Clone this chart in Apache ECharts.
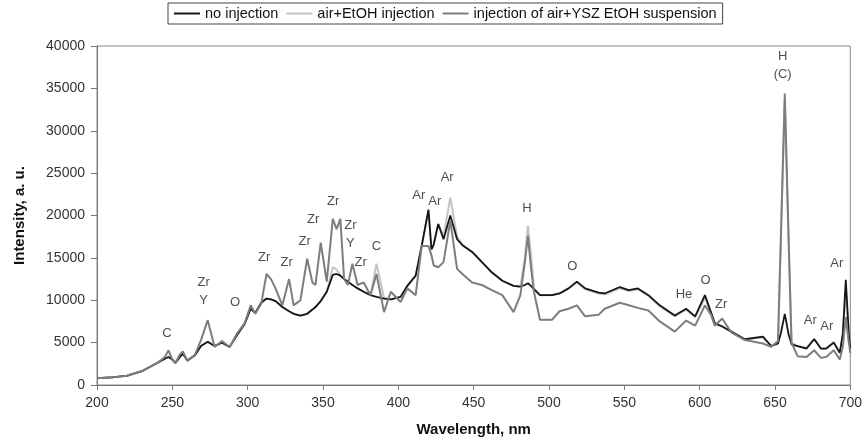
<!DOCTYPE html>
<html>
<head>
<meta charset="utf-8">
<script src="https://cdn.jsdelivr.net/npm/echarts@6/dist/echarts.min.js"></script>
<style>html,body{margin:0;padding:0;background:#fff}#c{width:865px;height:442px}</style>
</head>
<body>
<div id="c"></div>
<script>
// Wavelength grid (nm)
const wl = [200,210,220,230,240,245,247.5,250,252,255,257,260,265,269,273.5,278,283,288,293,298,302,305,309,312.5,315.5,318.5,323,327.5,330.5,335,339.5,343,345,348.5,352.5,356.5,359,361.5,364,366.5,369.5,373,377,381.5,385.5,390.5,395,401.5,406,411.5,415.5,420,422,423.5,426.5,430,434.5,439,442.5,449,455.5,462,469,476.5,481,484,486,488,490,494,502,507,513,518.5,524,533,537,547,553,559,566,573.5,583.5,591,597,603.5,607.5,610,615,621,630,642,647.5,652,654,656.5,659,661,665,671,676,680.5,684,689,693,695,697,699,700];
// no injection
const noInjection = [800,900,1100,1650,2600,3100,3300,3000,2600,3300,3700,2900,3500,4600,5100,4600,5000,4500,5900,7200,9000,8500,9700,10200,10100,9900,9200,8700,8400,8200,8400,8900,9200,9900,11000,13000,13100,12900,12500,12200,11800,11400,11000,10600,10400,10200,10100,10400,11700,12900,16400,20700,16000,16600,19000,17200,20000,17200,16500,15700,14500,13300,12300,11700,11600,11800,12000,11700,11300,10600,10600,10800,11400,12200,11400,10900,10800,11560,11200,11400,10600,9400,8200,9000,8100,10600,8600,7300,6900,6300,5400,5700,4600,4900,6200,8400,6000,4800,4600,4300,5400,4300,4300,5000,3800,6000,12400,6000,4300];
// air + EtOH injection
const airEtOH = [800,900,1100,1650,2600,3100,3300,3000,2600,3300,3700,2900,3500,4600,5100,4600,5000,4500,5900,7200,9000,8500,9700,10200,10100,9900,9200,8700,8400,8200,8400,8900,9200,9900,11000,13900,13600,13000,12500,12200,11800,11400,11000,10600,14300,10300,10100,10400,11700,12900,16400,20500,16000,16600,19000,17500,22100,17500,16600,15700,14500,13300,12300,11700,11600,15000,18800,15500,11400,10600,10600,10800,11400,12100,11300,10800,10700,11400,11100,11300,10500,9300,8100,8900,8000,10300,8500,7200,6900,6300,5400,5600,4600,4900,18000,33500,17000,5000,4600,4400,5500,4300,4300,5100,3800,6000,11000,6000,4300];
// injection of air + YSZ EtOH suspension
const yszSuspension = [800,900,1100,1650,2600,3300,4100,3000,2600,3600,3950,2850,3550,5300,7650,4500,5200,4450,6100,7300,9400,8400,9600,13100,12500,11400,9400,12500,9400,10000,14900,12100,11800,16800,12200,19600,18400,19600,12500,11800,14300,11800,12100,10600,13100,8600,11000,9800,11400,10600,16400,16400,15300,14100,13900,14500,19400,13700,13100,12100,11800,11200,10600,8600,10600,14500,17600,14000,11000,7700,7700,8700,9000,9400,8100,8300,9000,9700,9400,9100,8800,7500,6300,7600,7000,9400,8300,7000,7850,6200,5300,4900,4500,5200,18000,34400,17500,5000,3400,3300,4100,3200,3300,4100,3000,4500,8000,5000,3800];

// Peak annotations
const annText = ['C','Zr\nY','O','Zr','Zr','Zr','Zr','Zr','Zr\nY','Zr','C','Ar','Ar','Ar','H','O','He','O','Zr','H\n(C)','Ar','Ar','Ar'];
const annWl   = [246.5,270.8,291.7,310.9,325.9,337.8,343.5,356.8,368.2,375,385.4,413.6,424.2,432.4,485.3,515.5,589.6,603.9,614.3,655.1,673.4,684.4,691];
const annVal  = [6100,11000,9730,15080,14500,16900,19570,21720,17750,14500,16330,22390,21720,24460,20860,13990,10700,12350,9490,37700,7660,6880,14300];

const xTicks = {min:200, max:700, interval:50};
const yTicks = {min:0, max:40000, interval:5000};

const pairs = arr => wl.map((x,i)=>[x, arr[i]]);
const FONT = 'Liberation Sans, Arial, sans-serif';

const chart = echarts.init(document.getElementById('c'), null, {renderer:'canvas'});
chart.setOption({
  backgroundColor:'#fff',
  animation:false,
  textStyle:{fontFamily:FONT},
  legend:{
    left:168, top:3,
    data:['no injection','air+EtOH injection','injection of air+YSZ EtOH suspension'],
    icon:'rect', itemWidth:26, itemHeight:2, itemGap:8,
    borderColor:'#444', borderWidth:1, padding:[3,6,3,6],
    textStyle:{fontFamily:FONT, fontSize:14.5, color:'#111'}
  },
  grid:{left:97, right:12, top:46, bottom:55, show:true, borderColor:'#8a8a8a', borderWidth:1},
  xAxis:{
    type:'value', min:xTicks.min, max:xTicks.max, interval:xTicks.interval,
    name:'Wavelength, nm', nameLocation:'middle', nameGap:37,
    nameTextStyle:{fontFamily:FONT, fontSize:15, fontWeight:'bold', color:'#111'},
    axisLine:{show:true, lineStyle:{color:'#777'}},
    axisTick:{show:true, length:5, lineStyle:{color:'#777'}},
    axisLabel:{fontFamily:FONT, fontSize:14, color:'#333', margin:11},
    splitLine:{show:false}
  },
  yAxis:{
    type:'value', min:yTicks.min, max:yTicks.max, interval:yTicks.interval,
    name:'Intensity, a. u.', nameLocation:'middle', nameGap:70,
    nameTextStyle:{fontFamily:FONT, fontSize:15, fontWeight:'bold', color:'#111'},
    axisLine:{show:true, lineStyle:{color:'#777'}},
    axisTick:{show:true, length:6, lineStyle:{color:'#777'}},
    axisLabel:{fontFamily:FONT, fontSize:14, color:'#333', margin:12, formatter:v=>String(v)},
    splitLine:{show:false}
  },
  series:[
    {name:'air+EtOH injection', type:'line', data:pairs(airEtOH), symbol:'none', z:2,
     lineStyle:{color:'#c3c3c3', width:2}, itemStyle:{color:'#c3c3c3'}},
    {name:'no injection', type:'line', data:pairs(noInjection), symbol:'none', z:3,
     lineStyle:{color:'#151515', width:1.8}, itemStyle:{color:'#151515'}},
    {name:'injection of air+YSZ EtOH suspension', type:'line', data:pairs(yszSuspension), symbol:'none', z:4,
     lineStyle:{color:'#7d7d7d', width:2}, itemStyle:{color:'#7d7d7d'}},
    {name:'labels', type:'scatter', z:5, silent:true, symbolSize:0,
     data:annWl.map((x,i)=>({value:[x, annVal[i]], name:annText[i]})),
     label:{show:true, position:'inside', formatter:p=>p.name, fontFamily:FONT, fontSize:13, color:'#222', lineHeight:18}}
  ]
});
</script>
</body>
</html>
